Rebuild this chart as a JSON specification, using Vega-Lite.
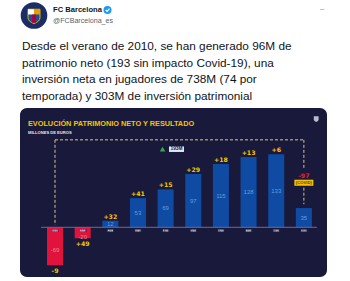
{
  "$schema": "https://vega.github.io/schema/vega-lite/v6.json",
  "padding": 0,
  "background": "white",
  "spacing": 5,
  "center": true,
  "config": {
    "view": {"stroke": null},
    "axis": {"disable": true},
    "legend": {"disable": true}
  },
  "vconcat": [
    {
      "width": 347,
      "height": 30,
      "data": {"values": [{"name": "FC Barcelona", "handle": "@FCBarcelona_es", "more": "•••"}]},
      "title": {
        "text": [
          "Desde el verano de 2010, se han generado 96M de",
          "patrimonio neto (193 sin impacto Covid-19), una",
          "inversión neta en jugadores de 738M (74 por",
          "temporada) y 303M de inversión patrimonial"
        ],
        "orient": "bottom",
        "anchor": "start",
        "frame": "group",
        "dx": 22,
        "offset": 11,
        "font": "Liberation Sans",
        "fontSize": 11.8,
        "fontWeight": "normal",
        "color": "#0f1419",
        "lineHeight": 16.6
      },
      "layer": [
        {
          "mark": {"type": "point", "shape": "circle", "filled": true, "size": 708, "color": "#1b2d66", "opacity": 1},
          "encoding": {
            "x": {"datum": 34, "type": "quantitative", "scale": {"domain": [0, 347], "nice": false, "zero": false}},
            "y": {"datum": 15.5, "type": "quantitative", "scale": {"domain": [0, 30], "nice": false, "zero": false, "reverse": true}}
          }
        },
        {
          "mark": {"type": "point", "shape": "M-0.8,-0.9H0.8V0.2Q0.8,0.75 0,1Q-0.8,0.75 -0.8,0.2Z", "filled": true, "size": 225, "color": "#1d4fa0", "stroke": "#e8b400", "strokeWidth": 1, "opacity": 1},
          "encoding": {"x": {"datum": 34, "type": "quantitative"}, "y": {"datum": 16, "type": "quantitative"}}
        },
        {
          "mark": {"type": "point", "shape": "M-0.8,-0.9H0V-0.2H-0.8Z", "filled": true, "size": 225, "color": "#ffffff", "opacity": 1},
          "encoding": {"x": {"datum": 34, "type": "quantitative"}, "y": {"datum": 16, "type": "quantitative"}}
        },
        {
          "mark": {"type": "point", "shape": "M0,-0.9H0.8V-0.2H0Z", "filled": true, "size": 225, "color": "#e5a000", "opacity": 1},
          "encoding": {"x": {"datum": 34, "type": "quantitative"}, "y": {"datum": 16, "type": "quantitative"}}
        },
        {
          "mark": {"type": "point", "shape": "M-0.25,-0.2H0.25V0.9H-0.25Z", "filled": true, "size": 225, "color": "#b0003a", "opacity": 1},
          "encoding": {"x": {"datum": 34, "type": "quantitative"}, "y": {"datum": 16, "type": "quantitative"}}
        },
        {
          "mark": {"type": "text", "align": "left", "baseline": "middle", "font": "Liberation Sans", "fontSize": 7.6, "fontWeight": "bold", "color": "#0f1419"},
          "encoding": {"x": {"datum": 53, "type": "quantitative"}, "y": {"datum": 10, "type": "quantitative"}, "text": {"field": "name"}}
        },
        {
          "mark": {"type": "point", "shape": "circle", "filled": true, "size": 64, "color": "#1d9bf0", "opacity": 1},
          "encoding": {"x": {"datum": 107.5, "type": "quantitative"}, "y": {"datum": 10, "type": "quantitative"}}
        },
        {
          "mark": {"type": "point", "shape": "M-0.45,0L-0.1,0.35L0.5,-0.35", "filled": false, "size": 64, "stroke": "#ffffff", "strokeWidth": 1.1, "opacity": 1},
          "encoding": {"x": {"datum": 107.5, "type": "quantitative"}, "y": {"datum": 10, "type": "quantitative"}}
        },
        {
          "mark": {"type": "text", "align": "left", "baseline": "middle", "font": "Liberation Sans", "fontSize": 7.1, "color": "#536471"},
          "encoding": {"x": {"datum": 53, "type": "quantitative"}, "y": {"datum": 21, "type": "quantitative"}, "text": {"field": "handle"}}
        },
        {
          "mark": {"type": "text", "align": "center", "baseline": "middle", "font": "Liberation Sans", "fontSize": 4, "color": "#8b98a5"},
          "encoding": {"x": {"datum": 322, "type": "quantitative"}, "y": {"datum": 10, "type": "quantitative"}, "text": {"field": "more"}}
        }
      ]
    },
    {
      "width": 307,
      "height": 169,
      "view": {"fill": "#19193b", "stroke": null, "cornerRadius": 7},
      "title": {
        "text": "EVOLUCIÓN PATRIMONIO NETO Y RESULTADO",
        "subtitle": "MILLONES DE EUROS",
        "orient": "top",
        "anchor": "start",
        "frame": "group",
        "dx": 8,
        "offset": -27,
        "font": "Liberation Sans",
        "fontSize": 7.3,
        "fontWeight": "bold",
        "color": "#f5c400",
        "subtitleFont": "Liberation Sans",
        "subtitleFontSize": 4.1,
        "subtitleFontWeight": "bold",
        "subtitleColor": "#e6e6ef",
        "subtitlePadding": 3.5
      },
      "data": {
        "values": [
          {"season": "10/11", "value": -69, "change": "-9", "note": null},
          {"season": "11/12", "value": -20, "change": "+49", "note": null},
          {"season": "12/13", "value": 12, "change": "+32", "note": null},
          {"season": "13/14", "value": 53, "change": "+41", "note": null},
          {"season": "14/15", "value": 69, "change": "+15", "note": null},
          {"season": "15/16", "value": 97, "change": "+29", "note": null},
          {"season": "16/17", "value": 115, "change": "+18", "note": null},
          {"season": "17/18", "value": 128, "change": "+13", "note": null},
          {"season": "18/19", "value": 133, "change": "+6", "note": null},
          {"season": "19/20", "value": 35, "change": "-97", "note": "(COVID)"}
        ]
      },
      "resolve": {"scale": {"y": "independent"}},
      "layer": [
        {
          "layer": [
            {
              "mark": {"type": "bar"},
              "encoding": {
                "x": {"field": "season", "type": "nominal", "sort": null, "scale": {"domain": ["10/11", "11/12", "12/13", "13/14", "14/15", "15/16", "16/17", "17/18", "18/19", "19/20"], "paddingInner": 0.42, "paddingOuter": 0.7616, "align": 0.641}},
                "y": {"field": "value", "type": "quantitative", "scale": {"domain": [-90.4, 216.9], "nice": false, "zero": false}},
                "color": {"condition": {"test": "datum.value < 0", "value": "#e0133d"}, "value": "#0f4aa3"}
              }
            },
            {
              "mark": {"type": "rule", "color": "#6c6c9c", "strokeWidth": 1},
              "transform": [{"filter": "datum.season == '10/11'"}],
              "encoding": {
                "x": {"datum": "10/11", "type": "nominal", "bandPosition": -0.375},
                "x2": {"datum": "19/20", "bandPosition": 1.31},
                "y": {"datum": 0, "type": "quantitative"}
              }
            },
            {
              "mark": {"type": "point", "shape": "M-1,-0.4H1V0.4H-1Z", "filled": true, "size": 30, "color": "#cfd1e0", "opacity": 1},
              "encoding": {
                "x": {"field": "season", "type": "nominal"},
                "y": {"datum": -6, "type": "quantitative"}
              }
            },
            {
              "mark": {"type": "text", "baseline": "middle", "align": "center", "font": "Liberation Sans", "fontSize": 3.1, "fontWeight": "bold", "color": "#2a2a55"},
              "encoding": {
                "x": {"field": "season", "type": "nominal"},
                "y": {"datum": -6, "type": "quantitative"},
                "text": {"field": "season"}
              }
            },
            {
              "mark": {"type": "text", "baseline": "bottom", "align": "center", "dy": -1, "font": "DejaVu Sans", "fontSize": 6.2, "fontWeight": "bold", "color": "#f7c600"},
              "transform": [{"filter": "datum.value > 0 && datum.season != '19/20'"}],
              "encoding": {
                "x": {"field": "season", "type": "nominal"},
                "y": {"field": "value", "type": "quantitative"},
                "text": {"field": "change"}
              }
            },
            {
              "mark": {"type": "text", "baseline": "top", "align": "center", "dy": 2.5, "font": "DejaVu Sans", "fontSize": 6.2, "fontWeight": "bold", "color": "#f7c600"},
              "transform": [{"filter": "datum.value < 0"}],
              "encoding": {
                "x": {"field": "season", "type": "nominal"},
                "y": {"field": "value", "type": "quantitative"},
                "text": {"field": "change"}
              }
            },
            {
              "mark": {"type": "text", "baseline": "middle", "align": "center", "font": "DejaVu Sans", "fontSize": 6.2, "fontWeight": "bold", "color": "#e8223a"},
              "transform": [{"filter": "datum.season == '19/20'"}],
              "encoding": {
                "x": {"field": "season", "type": "nominal"},
                "y": {"datum": 94, "type": "quantitative"},
                "text": {"field": "change"}
              }
            },
            {
              "mark": {"type": "point", "shape": "M-1,-0.32H1V0.32H-1Z", "filled": true, "size": 361, "color": "#f2c200", "opacity": 1},
              "transform": [{"filter": "datum.note != null"}],
              "encoding": {
                "x": {"field": "season", "type": "nominal"},
                "y": {"datum": 81, "type": "quantitative"}
              }
            },
            {
              "mark": {"type": "text", "baseline": "middle", "align": "center", "font": "Liberation Sans", "fontSize": 4.2, "fontWeight": "bold", "color": "#5a3a00"},
              "transform": [{"filter": "datum.note != null"}],
              "encoding": {
                "x": {"field": "season", "type": "nominal"},
                "y": {"datum": 81, "type": "quantitative"},
                "text": {"field": "note"}
              }
            },
            {
              "data": {"values": [{"total": "193M"}]},
              "layer": [
                {
                  "mark": {"type": "rule", "color": "#d6c28c", "strokeWidth": 1, "strokeDash": [3, 2]},
                  "encoding": {
                    "x": {"datum": "10/11", "type": "nominal", "bandPosition": 0.5},
                    "x2": {"datum": "19/20", "bandPosition": 0.5},
                    "y": {"datum": 159, "type": "quantitative"}
                  }
                },
                {
                  "mark": {"type": "rule", "color": "#d6c28c", "strokeWidth": 1, "strokeDash": [3, 2]},
                  "encoding": {
                    "x": {"datum": "10/11", "type": "nominal", "bandPosition": 0.5},
                    "y": {"datum": 159, "type": "quantitative"},
                    "y2": {"datum": 4}
                  }
                },
                {
                  "mark": {"type": "rule", "color": "#d6c28c", "strokeWidth": 1, "strokeDash": [3, 2]},
                  "encoding": {
                    "x": {"datum": "19/20", "type": "nominal", "bandPosition": 0.5},
                    "y": {"datum": 159, "type": "quantitative"},
                    "y2": {"datum": 108}
                  }
                },
                {
                  "mark": {"type": "rule", "color": "#d6c28c", "strokeWidth": 1, "strokeDash": [3, 2]},
                  "encoding": {
                    "x": {"datum": "19/20", "type": "nominal", "bandPosition": 0.5},
                    "y": {"datum": 72, "type": "quantitative"},
                    "y2": {"datum": 42}
                  }
                },
                {
                  "mark": {"type": "point", "shape": "triangle-up", "filled": true, "size": 30, "color": "#3fa648", "opacity": 1},
                  "encoding": {
                    "x": {"datum": "14/15", "type": "nominal", "bandPosition": 0.31},
                    "y": {"datum": 142, "type": "quantitative"}
                  }
                },
                {
                  "mark": {"type": "point", "shape": "M-1,-0.37H1V0.37H-1Z", "filled": true, "size": 225, "color": "#e4e6f0", "opacity": 1},
                  "encoding": {
                    "x": {"datum": "14/15", "type": "nominal", "bandPosition": 1.18},
                    "y": {"datum": 142, "type": "quantitative"}
                  }
                },
                {
                  "mark": {"type": "text", "baseline": "middle", "align": "center", "font": "Liberation Sans", "fontSize": 4.8, "fontWeight": "bold", "color": "#1b1b45"},
                  "encoding": {
                    "x": {"datum": "14/15", "type": "nominal", "bandPosition": 1.18},
                    "y": {"datum": 142, "type": "quantitative"},
                    "text": {"field": "total"}
                  }
                },
                {
                  "mark": {"type": "point", "shape": "M-0.8,-0.9H0.8V0.2Q0.8,0.75 0,1Q-0.8,0.75 -0.8,0.2Z", "filled": true, "size": 36, "color": "#b8bccc", "opacity": 1},
                  "encoding": {
                    "x": {"datum": "19/20", "type": "nominal", "bandPosition": 1.27},
                    "y": {"datum": 197, "type": "quantitative"}
                  }
                }
              ]
            }
          ]
        },
        {
          "mark": {"type": "text", "baseline": "middle", "align": "center", "font": "Liberation Sans", "fontSize": 6},
          "transform": [{"filter": "datum.value > 0"}],
          "encoding": {
            "x": {"field": "season", "type": "nominal"},
            "y": {"field": "value", "type": "quantitative", "scale": {"domain": [-180.8, 433.8], "nice": false, "zero": false}},
            "text": {"field": "value"},
            "color": {"value": "#6e9bd8"}
          }
        },
        {
          "mark": {"type": "text", "baseline": "middle", "align": "center", "dy": 4, "font": "Liberation Sans", "fontSize": 6},
          "transform": [{"filter": "datum.value < 0"}],
          "encoding": {
            "x": {"field": "season", "type": "nominal"},
            "y": {"field": "value", "type": "quantitative", "scale": {"domain": [-180.8, 433.8], "nice": false, "zero": false}},
            "text": {"field": "value"},
            "color": {"value": "#f4808c"}
          }
        }
      ]
    }
  ]
}
